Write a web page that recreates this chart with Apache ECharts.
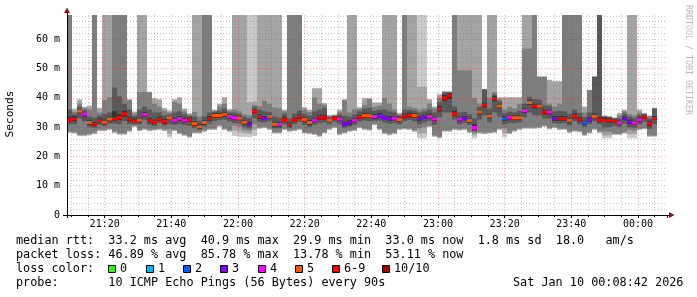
<!DOCTYPE html>
<html><head><meta charset="utf-8">
<script src="https://cdn.jsdelivr.net/npm/echarts@6/dist/echarts.min.js"></script>
<style>html,body{margin:0;padding:0;background:#fff}#c{width:697px;height:297px}</style>
</head><body><div id="c"></div>
<script>
// time axis in minutes of day: graph spans 21:08:42 .. 00:08:42, one probe every 90 s
const startMin = 21 * 60 + 8.7;
const endMin = startMin + 180;
const stepMin = 1.5;
const yMax = 68.3;

// ten sorted ping RTTs (ms) per step, ping0 = fastest; 99 = far above the graph
const ping0 = [28.0,27.8,26.9,26.9,27.2,27.6,28.6,28.6,29.0,28.0,
 27.4,27.4,28.4,30.0,28.6,29.0,28.6,28.8,29.0,28.6,
 26.5,28.6,27.6,27.0,26.4,27.8,27.8,28.4,29.0,29.0,
 30.1,29.0,28.4,27.0,26.7,26.7,26.6,27.0,29.4,29.6,
 29.0,27.8,27.8,29.0,28.4,28.6,29.0,27.8,27.6,27.3,
 26.7,27.8,29.0,29.6,27.3,27.8,28.4,28.6,29.6,29.0,
 28.8,30.6,29.0,27.6,27.2,27.6,29.0,29.2,29.0,28.4,
 26.2,26.2,30.0,26.7,26.2,28.4,28.4,29.0,28.8,29.0,
 28.0,26.2,27.8,27.6,27.8,28.0,29.0,26.5,27.6,28.4,
 29.0,29.4,29.4,29.4,29.6,30.1,29.2,29.6,29.0,29.0,
 28.0,28.4,28.2,27.0,27.8,29.0,28.0,26.2,26.2,27.3,
 27.3,27.8,26.2,26.2,29.0,29.2,26.7,26.7];
const ping1 = [28.2,28.0,27.1,27.1,27.4,27.8,28.8,28.8,29.2,28.2,
 27.6,27.6,28.6,30.2,28.8,29.2,28.8,29.0,29.2,28.8,
 27.8,28.8,27.8,27.2,26.6,28.0,28.0,28.6,29.2,29.2,
 30.3,29.2,28.6,28.8,28.4,28.0,27.8,29.0,29.6,29.8,
 29.2,28.0,28.0,29.2,28.6,28.8,29.2,28.0,27.8,27.5,
 26.9,28.0,29.2,29.8,27.5,28.0,28.6,28.8,29.8,29.2,
 29.0,30.8,29.2,27.8,27.4,27.8,29.2,29.4,29.2,28.6,
 27.8,28.0,30.2,26.9,26.4,28.6,28.6,29.2,29.0,29.2,
 28.2,27.2,28.0,27.8,28.0,28.2,29.2,28.0,27.8,28.6,
 29.2,29.6,29.6,29.6,29.8,30.3,29.4,29.8,29.2,29.2,
 28.2,28.6,28.4,27.2,28.0,29.2,28.2,27.2,27.2,27.5,
 27.5,28.0,27.6,27.6,29.2,29.4,26.9,26.9];
const ping2 = [28.5,28.3,27.4,27.4,27.7,28.1,29.1,29.1,29.5,28.5,
 27.9,27.9,28.9,30.5,29.1,29.5,29.1,29.3,29.5,29.1,
 29.4,29.1,28.1,27.5,26.9,28.3,28.3,28.9,29.5,29.5,
 30.6,29.5,28.9,30.4,30.0,29.0,28.8,31.0,29.9,30.1,
 29.5,28.3,28.3,29.5,28.9,29.1,29.5,28.3,28.1,27.8,
 27.2,28.3,29.5,30.1,27.8,28.3,28.9,29.1,30.1,29.5,
 29.3,31.1,29.5,28.1,27.7,28.1,29.5,29.7,29.5,28.9,
 29.6,30.0,30.5,27.2,26.7,28.9,28.9,29.5,29.3,29.5,
 28.5,28.0,28.3,28.1,28.3,28.5,29.5,29.6,28.1,28.9,
 29.5,29.9,29.9,29.9,30.1,30.6,29.7,30.1,29.5,29.5,
 28.5,28.9,28.7,27.5,28.3,29.5,28.5,28.4,28.4,27.8,
 27.8,28.3,29.0,28.8,29.5,29.7,27.2,27.2];
const ping3 = [31.0,31.0,33.0,32.0,30.0,29.8,30.8,30.4,31.2,31.2,
 31.0,32.0,31.0,31.0,31.0,32.4,30.8,30.4,31.4,30.6,
 31.0,30.8,31.0,30.6,30.4,29.8,29.0,30.2,31.2,32.0,
 32.4,32.6,32.0,31.4,31.2,30.0,29.6,33.0,31.8,31.6,
 32.0,29.6,29.6,31.0,29.8,31.0,31.8,30.8,30.0,30.8,
 31.4,31.6,31.0,31.8,31.0,29.8,30.2,30.8,32.0,32.2,
 32.0,32.2,32.2,31.6,31.2,31.4,31.0,32.0,32.4,32.0,
 31.0,31.6,32.2,30.8,33.4,35.0,35.0,32.6,31.0,31.4,
 30.8,28.6,32.6,34.0,31.6,35.0,33.6,31.0,31.4,31.4,
 31.6,33.4,35.0,34.0,34.0,33.0,33.0,31.4,31.2,31.4,
 30.6,32.0,31.0,30.0,31.0,32.0,31.0,30.0,30.0,30.4,
 30.0,31.2,30.0,29.8,31.0,31.8,29.4,31.0];
const ping4 = [31.8,32.0,34.8,33.6,30.8,30.4,31.6,31.0,32.0,32.2,
 32.5,33.6,32.0,31.6,31.6,33.6,31.6,31.0,32.0,31.2,
 32.6,31.6,32.2,31.6,31.8,30.4,29.4,30.8,32.2,33.2,
 33.2,33.6,33.0,32.4,32.4,31.0,30.4,34.8,32.8,32.4,
 33.0,30.2,30.2,31.8,30.2,31.8,32.8,31.8,30.8,31.6,
 32.6,32.6,31.8,32.6,32.0,30.4,30.8,31.6,32.8,33.2,
 33.2,32.8,33.2,32.6,32.2,32.4,31.8,33.0,33.4,33.2,
 32.2,32.8,33.0,32.0,35.4,39.0,39.6,33.8,32.0,32.4,
 31.6,29.2,34.4,36.8,33.0,39.0,36.4,32.2,32.6,32.4,
 32.4,34.8,37.6,36.4,36.4,34.4,34.4,32.2,32.2,32.2,
 31.6,33.0,31.8,30.8,31.8,33.0,31.8,31.8,31.6,31.6,
 30.8,32.4,31.0,30.8,31.8,32.8,30.4,32.4];
const ping5 = [33.6,33.8,36.2,35.0,32.4,31.8,33.0,32.6,33.6,35.4,
 34.5,35.6,33.6,33.0,33.2,35.2,33.2,32.6,33.6,32.8,
 33.8,33.2,33.8,33.2,33.2,32.0,31.0,32.4,33.8,34.8,
 34.8,35.2,34.4,34.0,33.8,32.4,31.8,36.2,34.4,33.8,
 34.4,31.8,31.8,33.4,31.6,33.2,34.2,33.4,32.4,33.2,
 34.2,34.2,33.0,33.8,33.6,32.0,32.4,33.2,34.2,34.8,
 34.6,34.4,34.8,34.0,33.8,33.8,33.4,34.6,35.0,34.8,
 33.8,34.2,34.6,33.6,37.2,41.0,41.6,35.6,33.6,33.8,
 33.0,31.0,36.0,38.4,34.6,40.6,38.0,33.8,34.2,34.0,
 34.0,36.4,39.2,38.0,38.0,36.0,36.0,33.8,33.8,33.8,
 33.2,34.6,33.4,32.2,33.4,34.6,33.4,33.4,33.2,32.8,
 32.2,33.6,32.6,32.2,33.4,34.2,32.0,33.8];
const ping6 = [36.0,34.4,37.0,35.8,33.6,33.2,34.0,34.6,35.0,43.5,
 40.5,38.0,36.0,33.8,36.0,37.0,36.0,35.0,35.0,34.0,
 34.4,35.0,35.4,34.4,33.8,33.6,32.2,33.6,35.0,35.2,
 35.6,36.4,35.0,35.0,34.6,33.6,33.0,37.0,36.0,35.4,
 35.2,33.6,33.2,34.6,33.0,34.6,35.6,34.6,34.0,35.4,
 36.0,36.6,33.4,33.8,34.4,34.0,33.6,34.4,35.4,36.4,
 36.6,35.6,36.0,36.0,35.4,35.0,34.0,36.0,35.8,35.6,
 35.0,35.4,36.0,35.0,38.6,41.8,41.8,37.0,35.0,35.2,
 34.4,33.0,37.0,42.9,36.4,41.2,38.8,34.8,35.4,35.0,
 35.6,38.0,40.4,39.6,39.4,37.4,37.2,35.4,35.6,35.4,
 34.6,36.0,34.8,33.4,35.0,47.2,99,33.6,33.4,33.0,
 33.0,34.6,33.6,33.2,34.2,34.4,33.0,36.4];
const ping7 = [99,35.2,37.8,36.5,36.0,99,35.0,39.2,40.3,99,
 99,99,39.2,34.6,42.0,42.0,41.8,38.0,37.0,35.6,
 35.0,38.6,38.0,35.4,34.2,35.2,33.6,99,99,35.6,
 37.0,38.0,35.6,36.0,35.4,34.4,34.0,37.6,37.2,39.0,
 38.0,36.8,36.5,35.4,99,99,99,36.0,35.2,40.1,
 38.0,37.6,33.8,34.0,35.2,39.2,35.0,36.0,36.2,37.6,
 39.6,37.0,37.4,40.0,38.0,36.0,34.4,99,37.0,36.6,
 36.0,36.4,38.0,36.4,40.0,42.0,42.0,99,49.4,49.4,
 49.4,40.0,38.0,42.9,40.0,42.0,39.6,36.0,37.0,36.4,
 38.0,56.8,56.8,99,47.2,47.2,38.0,37.0,38.0,99,
 99,99,99,35.0,42.6,47.2,99,33.7,33.5,33.0,
 34.0,35.4,34.4,34.0,35.0,34.6,33.7,36.4];
const ping8 = [99,36.0,39.2,36.9,37.2,99,36.4,99,99,99,
 99,99,39.4,35.2,99,99,42.0,39.8,39.4,36.4,
 35.4,39.4,40.1,36.2,34.6,99,99,99,99,35.8,
 37.9,40.1,36.0,99,99,99,38.6,38.8,99,99,
 99,99,99,35.8,99,99,99,36.7,35.8,43.2,
 43.2,38.1,34.0,34.2,35.8,39.4,99,99,36.7,39.8,
 39.8,38.3,38.3,99,99,99,34.7,99,99,99,
 43.8,43.8,39.4,36.9,41.1,42.2,42.2,99,99,99,
 99,99,99,42.9,99,99,40.1,40.1,40.1,40.1,
 40.1,99,99,99,47.2,47.2,46.0,45.6,45.6,99,
 99,99,99,36.9,42.6,47.2,99,33.8,33.6,33.2,
 34.7,35.8,99,99,35.8,34.7,33.8,36.4];
const ping9 = [99,36.4,39.6,37.0,37.4,99,36.6,99,99,99,
 99,99,39.6,35.4,99,99,42.2,40.0,39.6,36.6,
 35.8,39.6,40.3,36.4,34.8,99,99,99,99,36.0,
 38.0,40.3,36.2,99,99,99,99,99,99,99,
 99,99,99,36.0,99,99,99,36.9,36.0,43.4,
 43.4,38.3,34.2,34.4,36.0,39.6,99,99,36.9,40.0,
 40.0,38.5,38.5,99,99,99,35.0,99,99,99,
 99,99,39.6,37.1,41.3,42.4,42.4,99,99,99,
 99,99,99,43.1,99,99,40.3,40.3,40.3,40.3,
 40.3,99,99,99,47.4,47.4,46.2,45.8,45.8,99,
 99,99,99,37.1,42.8,47.4,99,34.0,33.8,33.4,
 34.9,36.0,99,99,36.0,34.9,34.0,36.6];

// median RTT (ms) per step
const median = [32.6,32.9,35.5,34.5,31.6,31.0,32.3,31.7,32.8,32.9,
 33.3,34.6,32.8,32.2,32.4,34.4,32.4,31.8,32.8,32.0,
 33.2,32.4,33.0,32.4,32.5,31.2,30.1,31.6,33.0,34.0,
 34.0,34.4,33.7,33.2,33.1,31.7,31.1,35.5,33.6,33.1,
 33.7,31.0,31.0,32.6,30.9,32.5,33.5,32.6,31.6,32.4,
 33.4,33.4,32.4,33.2,32.8,31.2,31.7,32.4,33.5,34.0,
 33.9,33.6,34.0,33.3,33.0,33.1,32.6,33.8,34.2,34.0,
 33.0,33.5,33.7,32.8,36.3,40.0,40.9,34.6,32.8,33.1,
 32.3,29.9,35.2,37.6,33.8,39.8,37.2,33.0,33.4,33.2,
 33.2,35.6,38.4,37.2,37.2,35.2,35.2,33.0,33.0,33.0,
 32.4,33.8,32.7,31.5,32.7,33.7,32.6,32.4,32.4,32.2,
 31.5,33.0,31.8,31.5,32.6,33.5,31.2,33.0];

// loss category per step (index into lossLabels)
const loss = [6,6,5,4,5,6,6,5,5,6,
 6,6,6,6,5,4,6,6,6,6,
 5,4,4,4,6,5,5,5,6,5,
 5,5,4,4,5,5,3,6,6,3,
 5,5,4,6,6,6,6,5,5,4,
 6,6,5,6,4,3,3,4,6,5,
 5,4,3,3,3,4,5,6,6,5,
 3,3,4,4,6,6,6,6,4,3,
 5,4,5,6,5,6,5,2,4,5,
 5,4,5,6,5,6,4,3,6,6,
 5,6,6,2,3,5,6,6,6,6,
 4,3,3,4,4,6,6,6];

const lossLabels = ['0','1','2','3','4','5','6-9','10/10'];
const lossColors = ['#26ff00','#00b8ff','#0059ff','#7e00ff','#ff00ff','#ff5500','#ff0000','#a10000'];
const smokeColors = ['#cacaca','#a4a4a4','#7e7e7e','#585858','#323232'];

const pings = [ping0,ping1,ping2,ping3,ping4,ping5,ping6,ping7,ping8,ping9];
const FONT = '"DejaVu Sans Mono", monospace';

function fmtTime(v){
  const m = Math.round(v) % 1440;
  const h = Math.floor(m/60), mm = m%60;
  return String(h).padStart(2,'0') + ':' + String(mm).padStart(2,'0');
}

function bandRender(color){
  return function(params, api){
    const a = api.coord([api.value(0), api.value(3)]);
    const b = api.coord([api.value(1), api.value(2)]);
    const cs = params.coordSys;
    const shape = echarts.graphic.clipRectByRect(
      {x:a[0], y:a[1], width:b[0]-a[0], height:b[1]-a[1]},
      {x:cs.x, y:cs.y, width:cs.width, height:cs.height});
    if(!shape) return null;
    return {type:'rect', shape: shape, style:{fill:color}};
  };
}

const series = [];
for(let k=0;k<5;k++){
  const data = median.map((_,i)=>[startMin+i*stepMin, startMin+(i+1)*stepMin, pings[k][i], pings[9-k][i]]);
  series.push({type:'custom', name:'smoke'+k, data: data, encode:{x:[0,1], y:[2,3]},
    renderItem: bandRender(smokeColors[k]), z:2+k, silent:true, animation:false});
}
series.push({type:'custom', name:'median',
  data: median.map((m,i)=>[startMin+i*stepMin, startMin+(i+1)*stepMin, m, loss[i]]),
  encode:{x:[0,1], y:2}, z:8, silent:true, animation:false,
  renderItem: function(params, api){
    const a = api.coord([api.value(0), api.value(2)]);
    const b = api.coord([api.value(1), api.value(2)]);
    return {type:'rect', shape:{x:a[0], y:a[1]-1.5, width:b[0]-a[0], height:3},
      style:{fill: lossColors[api.value(3)]}};
  }});

const graphics = [];
function txt(x,y,s,opt){
  graphics.push(Object.assign({type:'text', x:x, y:y, silent:true,
    style:{text:s, font:'11.8px '+FONT, fill:'#000', verticalAlign:'middle', align:'left'}}, opt||{}));
}
txt(16,241,'median rtt:  33.2 ms avg  40.9 ms max  29.9 ms min  33.0 ms now  1.8 ms sd  18.0   am/s');
txt(16,255,'packet loss: 46.89 % avg  85.78 % max  13.78 % min  53.11 % now');
txt(16,269,'loss color:');
txt(16,283,'probe:       10 ICMP Echo Pings (56 Bytes) every 90s');
txt(513,283,'Sat Jan 10 00:08:42 2026');
const boxX = [108,146,183,220,258,295,332,382];
lossLabels.forEach((lab,i)=>{
  graphics.push({type:'rect', silent:true, shape:{x:boxX[i]+0.5, y:265.5, width:7, height:7},
    style:{fill:lossColors[i], stroke:'#000', lineWidth:1}});
  txt(boxX[i]+12, 269, lab);
});
// y axis title
graphics.push({type:'text', x:10, y:114, rotation:Math.PI/2, silent:true,
  style:{text:'Seconds', font:'11.2px '+FONT, fill:'#000', align:'center', verticalAlign:'middle'}});
// watermark
graphics.push({type:'text', x:688, y:60, rotation:-Math.PI/2, silent:true,
  style:{text:'RRDTOOL / TOBI OETIKER', font:'8.3px '+FONT, fill:'#b8b8b8', align:'center', verticalAlign:'middle'}});
// axis arrows
graphics.push({type:'polygon', silent:true, shape:{points:[[64,13],[70,13],[67,7.5]]}, style:{fill:'#8e1010'}});
graphics.push({type:'polygon', silent:true, shape:{points:[[669,212],[669,218],[674.5,215]]}, style:{fill:'#8e1010'}});
graphics.push({type:'line', silent:true, shape:{x1:67.5,y1:15,x2:67.5,y2:12}, style:{stroke:'#000',lineWidth:1}});
graphics.push({type:'line', silent:true, shape:{x1:667,y1:215.5,x2:669,y2:215.5}, style:{stroke:'#000',lineWidth:1}});
graphics.push({type:'line', silent:true, shape:{x1:63,y1:215.5,x2:67,y2:215.5}, style:{stroke:'#000',lineWidth:1}});

const chart = echarts.init(document.getElementById('c'), null, {renderer:'canvas'});
chart.setOption({
  animation:false,
  backgroundColor:'#fff',
  grid:{left:67, top:15, width:600, height:200, show:false},
  xAxis:{type:'value', min:startMin, max:endMin, minInterval:20, maxInterval:20, z:10,
    axisLine:{show:true, onZero:false, lineStyle:{color:'#000', width:1}},
    axisTick:{show:true, length:3, lineStyle:{color:'#000'}},
    minorTick:{show:true, splitNumber:4, length:2, lineStyle:{color:'#000'}},
    axisLabel:{formatter:fmtTime, fontFamily:FONT, fontSize:10, color:'#000', margin:4,
      showMinLabel:false, showMaxLabel:false},
    splitLine:{show:true, showMinLine:false, showMaxLine:false,
      lineStyle:{color:'rgba(255,0,0,0.32)', type:[1,2], width:1}},
    minorSplitLine:{show:true, lineStyle:{color:'rgba(120,120,120,0.4)', type:[1,2], width:1}}
  },
  yAxis:{type:'value', min:0, max:yMax, interval:10, z:10,
    axisLine:{show:true, onZero:false, lineStyle:{color:'#000', width:1}},
    axisTick:{show:false},
    minorTick:{show:false, splitNumber:5},
    axisLabel:{formatter:v=> v===0 ? '0' : v+' m', fontFamily:FONT, fontSize:10, color:'#000', margin:7,
      showMaxLabel:false},
    splitLine:{show:true, showMinLine:false, showMaxLine:false,
      lineStyle:{color:'rgba(255,0,0,0.32)', type:[1,2], width:1}},
    minorSplitLine:{show:true, lineStyle:{color:'rgba(120,120,120,0.4)', type:[1,2], width:1}}
  },
  series: series,
  graphic: graphics
});
</script></body></html>
